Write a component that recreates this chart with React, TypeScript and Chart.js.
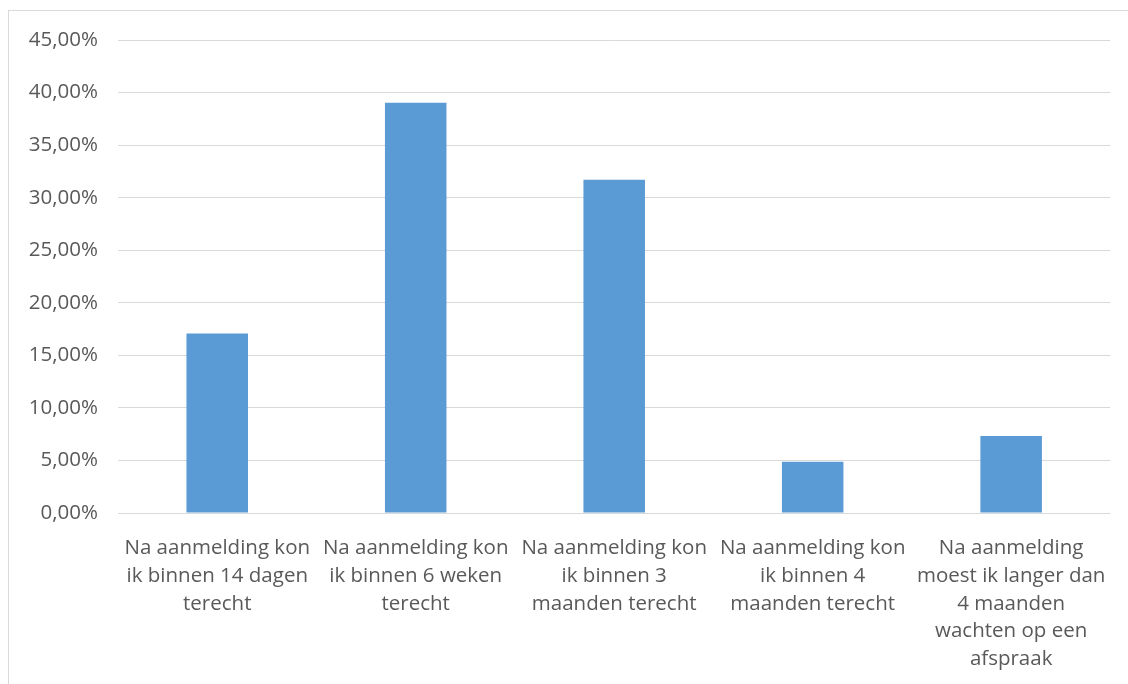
import React, { useEffect, useRef } from "react";
import { Chart, registerables } from "chart.js";

Chart.register(...registerables);

const categories: string[][] = [
  ["Na aanmelding kon", "ik binnen 14 dagen", "terecht"],
  ["Na aanmelding kon", "ik binnen 6 weken", "terecht"],
  ["Na aanmelding kon", "ik binnen 3", "maanden terecht"],
  ["Na aanmelding kon", "ik binnen 4", "maanden terecht"],
  ["Na aanmelding", "moest ik langer dan", "4 maanden", "wachten op een", "afspraak"],
];
const values: number[] = [17.07, 39.02, 31.71, 4.88, 7.32];
const yMin = 0;
const yMax = 45;
const yStep = 5;

const FONT = "'Open Sans', 'Noto Sans', sans-serif";
const TEXT = "#595959";

export default function App() {
  const ref = useRef<HTMLCanvasElement>(null);
  useEffect(() => {
    if (!ref.current) return;
    const chart = new Chart(ref.current, {
      type: "bar",
      data: {
        labels: categories,
        datasets: [
          {
            data: values,
            backgroundColor: "#5B9BD5",
            borderWidth: 0,
            barPercentage: 0.31,
            categoryPercentage: 1,
          },
        ],
      },
      options: {
        animation: false,
        responsive: false,
        maintainAspectRatio: false,
        layout: { padding: { top: 40, right: 16, left: 0, bottom: 0 } },
        plugins: { legend: { display: false }, tooltip: { enabled: false } },
        scales: {
          x: {
            grid: { display: false, drawTicks: false },
            border: { display: false },
            ticks: {
              color: TEXT,
              font: { family: FONT, size: 20.5, lineHeight: 1.36 },
              padding: 21,
              maxRotation: 0,
              autoSkip: false,
            },
            afterFit: (s: any) => {
              s.height = 684 - 513;
            },
          },
          y: {
            min: yMin,
            max: yMax,
            grid: { color: "#d9d9d9", lineWidth: 1, drawTicks: false },
            border: { display: false },
            ticks: {
              stepSize: yStep,
              color: TEXT,
              font: { family: FONT, size: 20.5 },
              padding: 20,
              callback: (v: any) => Number(v).toFixed(2).replace(".", ",") + "%",
            },
            afterFit: (s: any) => {
              s.width = 118;
            },
          },
        },
      },
    });
    return () => chart.destroy();
  }, []);
  return (
    <div style={{ position: "fixed", left: 0, top: 0, width: 1128, height: 684, overflow: "hidden", background: "#fff" }}>
      <div style={{ position: "absolute", left: 8, top: 10, width: 1200, height: 800, border: "1px solid #d9d9d9", boxSizing: "border-box" }} />
      <canvas ref={ref} width={1128} height={684} style={{ position: "absolute", left: 0, top: 0, width: 1128, height: 684 }} />
    </div>
  );
}
